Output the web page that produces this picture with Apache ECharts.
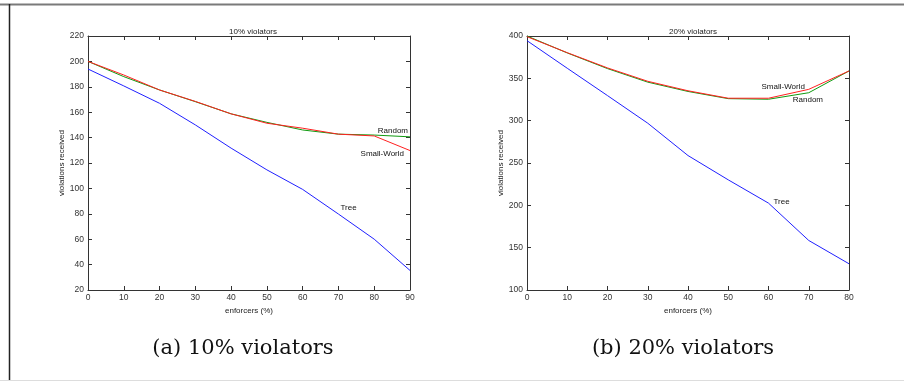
<!DOCTYPE html>
<html>
<head>
<meta charset="utf-8">
<script src="https://cdn.jsdelivr.net/npm/echarts@6/dist/echarts.min.js"></script>
<style>
  html, body { margin: 0; padding: 0; background: #fff; }
  #chart { width: 904px; height: 381px; }
</style>
</head>
<body>
<div id="chart"></div>
<script>
	// (a) 10% violators
	var enforcersA = [0, 10, 20, 30, 40, 50, 60, 70, 80, 90];
	var randomA = [200, 188, 177.5, 168.3, 158.7, 152, 146, 142.7, 142, 140.6];
	var smallWorldA = [200, 189.3, 177.5, 168.5, 158.7, 151.3, 147.4, 142.7, 141.3, 129.8];
	var treeA = [194, 180.7, 167, 150, 131.7, 114.6, 99.2, 79.8, 60, 35.4];

	// (b) 20% violators
	var enforcersB = [0, 10, 20, 30, 40, 50, 60, 70, 80];
	var randomB = [400, 380, 361.5, 345.5, 334.5, 326, 325.3, 333, 358.7];
	var smallWorldB = [399.2, 380.3, 362.3, 346.5, 335.3, 326.5, 326.5, 337, 358.7];
	var treeB = [394.5, 361.9, 329.6, 297, 258.8, 230.1, 202.6, 158.5, 131];

	var titles = ['10% violators', '20% violators'];
	var captions = ['(a) 10% violators', '(b) 20% violators'];

	var axisFont = { fontFamily: 'Liberation Sans', fontSize: 8.5, color: '#333' };
	var smallFont = { fontFamily: 'Liberation Sans', fontSize: 8, color: '#222' };
	var boxColor = '#333';

	// build line data; one point may carry a text label
	function pts(xs, ys, labelIdx, labelText, labelOpt) {
		return xs.map(function (x, i) {
			var item = { value: [x, ys[i]], symbolSize: 0 };
			if (i === labelIdx) {
				item.label = Object.assign({
					show: true, formatter: labelText,
					fontFamily: 'Liberation Sans', fontSize: 8, color: '#111'
				}, labelOpt);
			}
			return item;
		});
	}

	function xAx(grid, max, pos, showLabels) {
		return {
			type: 'value', gridIndex: grid, min: 0, max: max, interval: 10, position: pos,
			name: showLabels ? 'enforcers (%)' : '', nameLocation: 'middle', nameGap: 14,
			nameTextStyle: smallFont,
			axisLine: { show: true, onZero: false, lineStyle: { color: boxColor, width: 1 } },
			axisTick: { show: true, inside: true, length: 4, lineStyle: { color: boxColor } },
			axisLabel: Object.assign({ show: showLabels, margin: 3 }, axisFont),
			splitLine: { show: false }
		};
	}
	function yAx(grid, min, max, step, pos, showLabels) {
		return {
			type: 'value', gridIndex: grid, min: min, max: max, interval: step, position: pos,
			name: showLabels ? 'violations received' : '', nameLocation: 'middle', nameGap: 22,
			nameRotate: 90, nameTextStyle: smallFont,
			axisLine: { show: true, onZero: false, lineStyle: { color: boxColor, width: 1 } },
			axisTick: { show: true, inside: true, length: 4, lineStyle: { color: boxColor } },
			axisLabel: Object.assign({ show: showLabels, margin: 4 }, axisFont),
			splitLine: { show: false }
		};
	}

	function line(name, color, xi, yi, data, z) {
		return {
			name: name, type: 'line', xAxisIndex: xi, yAxisIndex: yi,
			data: data, showSymbol: true, symbol: 'circle', symbolSize: 0,
			lineStyle: { color: color, width: 1 }, itemStyle: { color: color },
			z: z, animation: false, silent: true
		};
	}

	var myEchart = echarts.init(document.getElementById('chart'), null, { renderer: 'canvas' });
	var titleStyle = { fontFamily: 'Liberation Sans', fontSize: 8, fontWeight: 'normal', color: '#222' };
	var capStyle = { fontFamily: 'DejaVu Serif', fontSize: 21, fontWeight: 'normal', color: '#111' };
	var option = {
		animation: false,
		backgroundColor: '#fff',
		title: [
			{ text: titles[0], left: 248, top: 23, textAlign: 'center', textStyle: titleStyle },
			{ text: titles[1], left: 688, top: 23, textAlign: 'center', textStyle: titleStyle },
			{ text: captions[0], left: 238, top: 333, textAlign: 'center', textStyle: capStyle },
			{ text: captions[1], left: 678, top: 333, textAlign: 'center', textStyle: capStyle }
		],
		grid: [
			{ left: 88, right: 494, top: 36, bottom: 91 },
			{ left: 527, right: 55, top: 36, bottom: 91 }
		],
		xAxis: [
			xAx(0, 90, 'bottom', true), xAx(0, 90, 'top', false),
			xAx(1, 80, 'bottom', true), xAx(1, 80, 'top', false)
		],
		yAxis: [
			yAx(0, 20, 220, 20, 'left', true), yAx(0, 20, 220, 20, 'right', false),
			yAx(1, 100, 400, 50, 'left', true), yAx(1, 100, 400, 50, 'right', false)
		],
		graphic: [
			{ type: 'line', shape: { x1: 0, y1: 4.5, x2: 904, y2: 4.5 }, style: { stroke: '#7a7a7a', lineWidth: 2 } },
			{ type: 'line', shape: { x1: 9.5, y1: 4, x2: 9.5, y2: 381 }, style: { stroke: '#222', lineWidth: 1.5 } },
			{ type: 'line', shape: { x1: 0, y1: 380.5, x2: 904, y2: 380.5 }, style: { stroke: '#ddd', lineWidth: 1 } }
		],
		series: [
			line('Tree', '#2020ff', 0, 0, pts(enforcersA, treeA, 7, 'Tree', { position: 'right', align: 'left', offset: [-3, -6] }), 3),
			line('Random', '#109a10', 0, 0, pts(enforcersA, randomA, 9, 'Random', { position: 'left', align: 'right', offset: [3, -6] }), 4),
			line('Small-World', '#ff2020', 0, 0, pts(enforcersA, smallWorldA, 9, 'Small-World', { position: 'left', align: 'right', offset: [-1, 3] }), 5),
			line('Tree', '#2020ff', 2, 2, pts(enforcersB, treeB, 6, 'Tree', { position: 'right', align: 'left', offset: [0, -1] }), 3),
			line('Random', '#109a10', 2, 2, pts(enforcersB, randomB, 7, 'Random', { position: 'right', align: 'left', offset: [-21, 7] }), 4),
			line('Small-World', '#ff2020', 2, 2, pts(enforcersB, smallWorldB, 6, 'Small-World', { position: 'right', align: 'left', offset: [-12, -11] }), 5)
		]
	};
	myEchart.setOption(option);
</script>
</body>
</html>
